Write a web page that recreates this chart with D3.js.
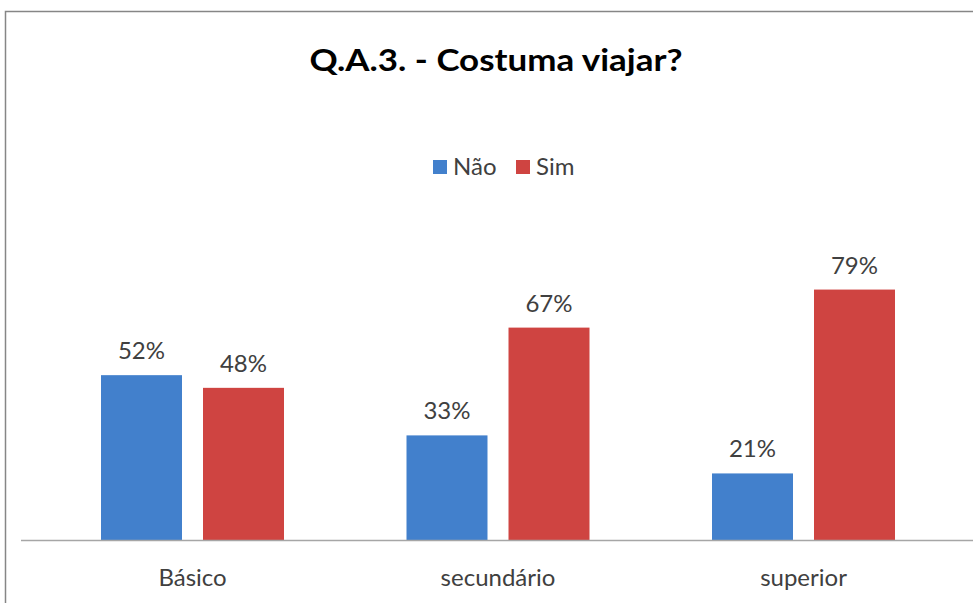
<!DOCTYPE html>
<html><head><meta charset="utf-8">
<script src="https://cdn.jsdelivr.net/npm/d3@7"></script>
<style>html,body{margin:0;padding:0;background:#fff;}svg{display:block;}</style>
</head><body>
<script>
const categories = ["Básico", "secundário", "superior"];
const seriesNames = ["Não", "Sim"];
const naoValues = [52, 33, 21];
const simValues = [48, 67, 79];
const colors = ["#4280CC", "#CF4441"];
const titleText = "Q.A.3. - Costuma viajar?";

const W = 973, H = 603;
const svg = d3.select("body").append("svg").attr("width", W).attr("height", H);
const font = "Lato, 'Open Sans', sans-serif";

// chart border
svg.append("rect").attr("x", 5.5).attr("y", 11.5).attr("width", 1100).attr("height", 800)
  .attr("fill", "#fff").attr("stroke", "#868686").attr("stroke-width", 1.5);

// title
svg.append("text").attr("x", 496).attr("y", 71).attr("text-anchor", "middle")
  .attr("font-family", font).attr("font-weight", "bold").attr("font-size", 30)
  .attr("fill", "#000").attr("textLength", 373).attr("lengthAdjust", "spacingAndGlyphs")
  .text(titleText);

const baseY = 540;
const groupW = 183;
const x0 = d3.scaleBand().domain(categories).range([39.75, 956.25]).paddingInner(0).paddingOuter(0);
const x1 = d3.scaleBand().domain(seriesNames).range([0, groupW]).paddingInner(0.206);
const y = d3.scaleLinear().domain([0, 100]).range([baseY, baseY - 317]);

const data = categories.map((c, i) => ({cat: c, vals: [naoValues[i], simValues[i]]}));
const groupOffset = (x0.bandwidth() - groupW) / 2;

const g = svg.append("g");
data.forEach(d => {
  d.vals.forEach((v, j) => {
    const bx = x0(d.cat) + groupOffset + x1(seriesNames[j]);
    g.append("rect").attr("x", bx).attr("y", y(v)).attr("width", x1.bandwidth())
      .attr("height", baseY - y(v)).attr("fill", colors[j]);
    g.append("text").attr("x", bx + x1.bandwidth() / 2).attr("y", y(v) - 16)
      .attr("text-anchor", "middle").attr("font-family", font).attr("font-size", 24)
      .attr("fill", "#404040").text(v + "%");
  });
});

// axis
svg.append("line").attr("x1", 21).attr("x2", 973).attr("y1", baseY + 0.5).attr("y2", baseY + 0.5)
  .attr("stroke", "#A6A6A6").attr("stroke-width", 1.5);
const xAxis = d3.axisBottom(x0).tickSize(0).tickPadding(0);
const ax = svg.append("g").attr("transform", `translate(0,${baseY})`).call(xAxis);
ax.select(".domain").remove();
ax.selectAll("text").attr("font-family", font).attr("font-size", 24).attr("fill", "#404040")
  .attr("dy", null).attr("y", 46);

// legend
const legX = [433, 516];
seriesNames.forEach((s, j) => {
  svg.append("rect").attr("x", legX[j]).attr("y", 160).attr("width", 14).attr("height", 14).attr("fill", colors[j]);
  svg.append("text").attr("x", legX[j] + 20).attr("y", 175).attr("font-family", font)
    .attr("font-size", 24).attr("fill", "#404040").text(s);
});
</script>
</body></html>
